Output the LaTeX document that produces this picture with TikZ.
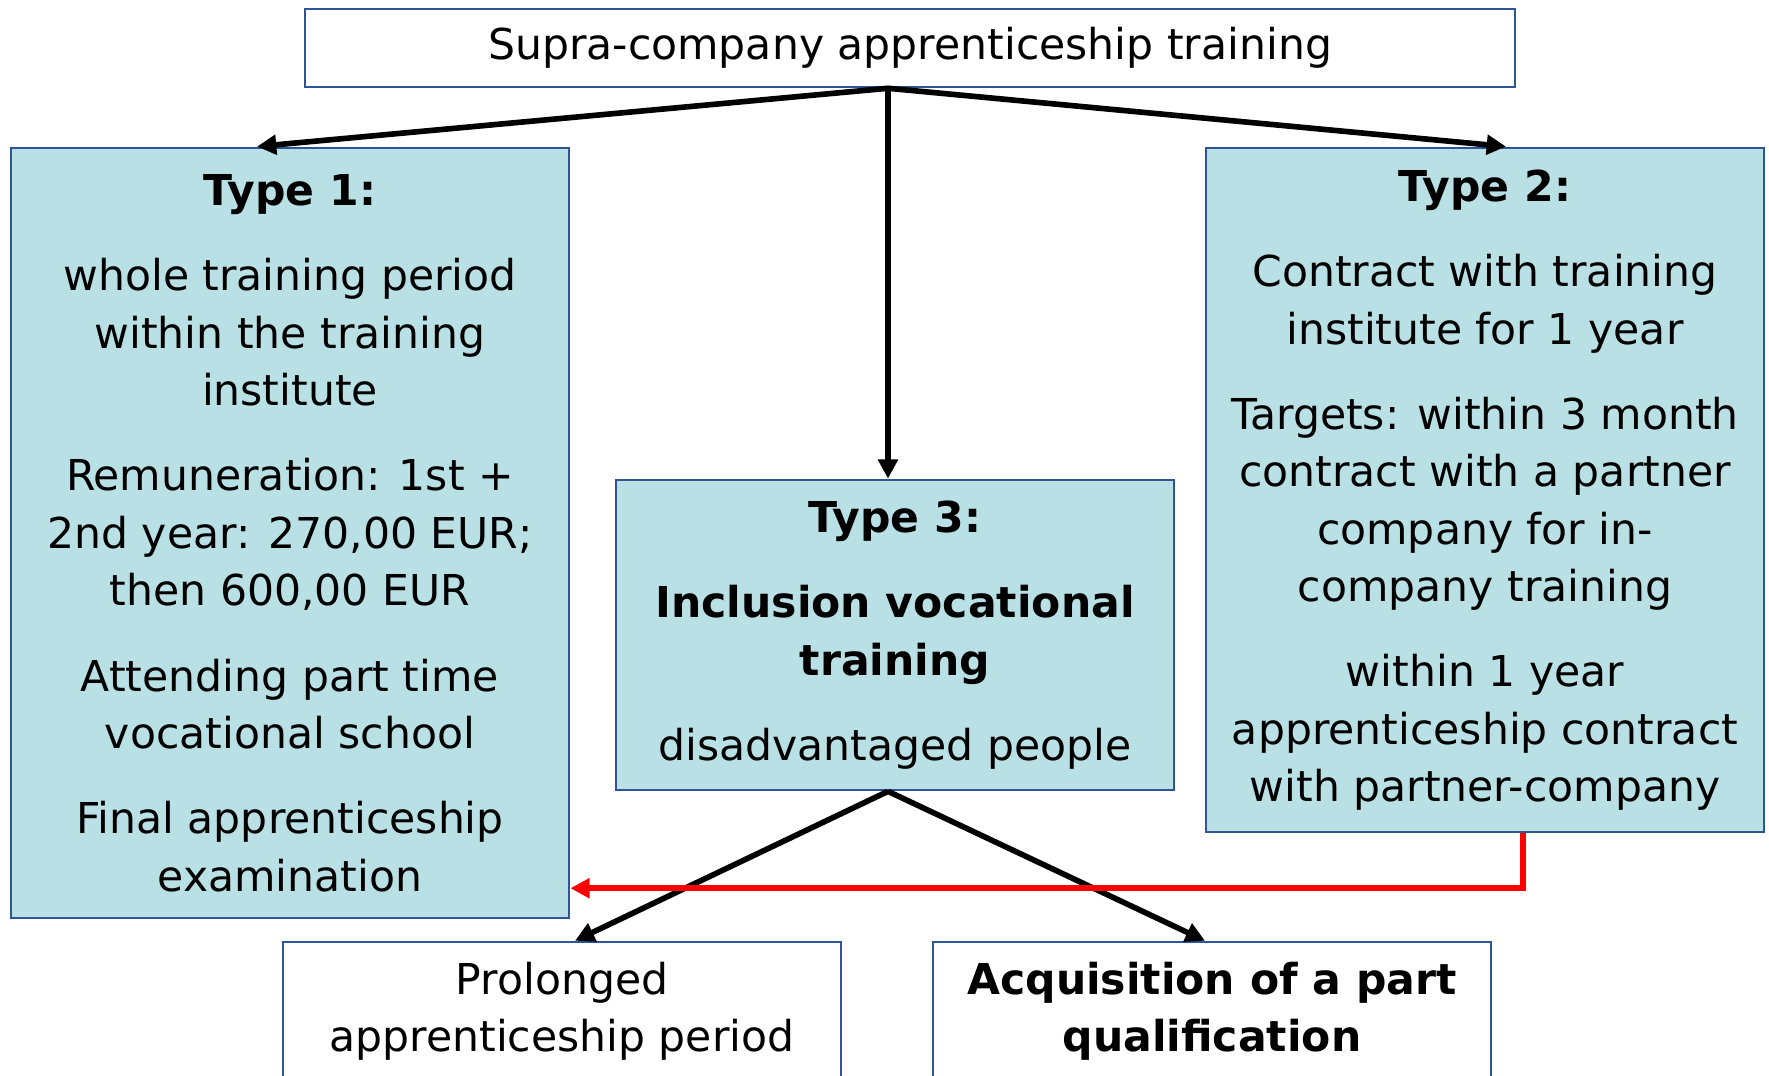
\documentclass[tikz,border=0pt]{standalone}
\usepackage{fontspec}
\setmainfont{DejaVu Sans}
\usepackage{tikz}
\usetikzlibrary{arrows.meta,positioning,calc}
\definecolor{boxfill}{RGB}{185,224,228}
\definecolor{boxline}{RGB}{47,85,151}

\begin{document}
\begin{tikzpicture}[x=0.01cm, y=-0.01cm,
    every node/.style={font=\fontsize{12.1}{16.3}\selectfont, align=center, inner sep=0pt},
    plain/.style={draw=boxline, line width=0.7pt, fill=white, minimum width=5.58cm},
    typebox/.style={plain, fill=boxfill},
    arr/.style={line width=1.6pt, -{Triangle[length=5.5pt,width=5.5pt]}},
    back/.style={arr, red}]
  \clip (0,0) rectangle (1769,1075);
  \node (top) [plain, minimum width=12.09cm, minimum height=0.78cm] at (910,48) {Supra-company apprenticeship training};
  \node (t1) [typebox, minimum height=7.70cm] at (290,533)
    {\textbf{Type 1:}\\[8pt]
     whole training period\\ within the training\\ institute\\[8pt]
     Remuneration: 1st +\\ 2nd year: 270,00 EUR;\\ then 600,00 EUR\\[8pt]
     Attending part time\\ vocational school\\[8pt]
     Final apprenticeship\\ examination};
  \node (t2) [typebox, minimum height=6.84cm] at (1485,490)
    {\textbf{Type 2:}\\[8pt]
     Contract with training\\ institute for 1 year\\[8pt]
     Targets: within 3 month\\ contract with a partner\\ company for in-\\ company training\\[8pt]
     within 1 year\\ apprenticeship contract\\ with partner-company};
  \node (t3) [typebox, minimum height=3.10cm] at (895,635)
    {\textbf{Type 3:}\\[8pt]
     \textbf{Inclusion vocational}\\ \textbf{training}\\[8pt]
     disadvantaged people};
  \node (prolong) [plain, minimum height=1.38cm] at (562,1011) {Prolonged\\ apprenticeship period};
  \node (partq) [plain, minimum height=1.38cm] at (1212,1011) {\textbf{Acquisition of a part}\\ \textbf{qualification}};

  \coordinate (split) at ([xshift=-0.22cm]top.south);
  \coordinate (join) at ([xshift=-0.07cm]t3.south);
  \draw[arr] (split) -- ([xshift=-0.33cm]t1.north);
  \draw[arr] (split) -- ([xshift=0.21cm]t2.north);
  \draw[arr] (split) -- (split |- t3.north);
  \draw[arr] (join) -- ([xshift=0.13cm]prolong.north);
  \draw[arr] (join) -- ([xshift=-0.07cm]partq.north);
  \draw[back] ([xshift=0.38cm]t2.south) |- ([yshift=-3.55cm]t1.east);
\end{tikzpicture}
\end{document}
